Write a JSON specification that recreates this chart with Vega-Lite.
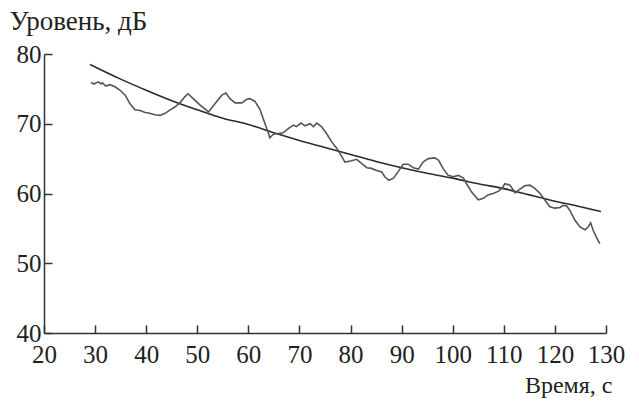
{
  "$schema": "https://vega.github.io/schema/vega-lite/v6.json",
  "width": 562,
  "height": 279,
  "autosize": {"type": "none"},
  "padding": {"left": 44, "top": 54, "right": 33, "bottom": 69},
  "background": "white",
  "config": {"view": {"stroke": null}, "font": "Liberation Serif"},
  "datasets": {
    "noisy": [
      {"t": 29.2, "v": 75.9}, {"t": 29.8, "v": 75.7}, {"t": 30.6, "v": 76.0}, {"t": 31.2, "v": 75.7}, {"t": 31.4, "v": 75.9},
      {"t": 32.1, "v": 75.4}, {"t": 32.9, "v": 75.6}, {"t": 33.9, "v": 75.3}, {"t": 34.9, "v": 74.8}, {"t": 35.9, "v": 74.1},
      {"t": 36.8, "v": 72.9}, {"t": 37.8, "v": 72.0}, {"t": 38.8, "v": 71.9}, {"t": 39.8, "v": 71.6}, {"t": 40.7, "v": 71.5},
      {"t": 41.7, "v": 71.3}, {"t": 42.7, "v": 71.2}, {"t": 43.7, "v": 71.5}, {"t": 44.7, "v": 72.0}, {"t": 45.6, "v": 72.4},
      {"t": 46.6, "v": 73.0}, {"t": 47.6, "v": 73.9}, {"t": 48.2, "v": 74.3}, {"t": 49.2, "v": 73.6}, {"t": 50.5, "v": 72.7},
      {"t": 52.2, "v": 71.7}, {"t": 53.5, "v": 72.9}, {"t": 54.8, "v": 74.1}, {"t": 55.6, "v": 74.4}, {"t": 56.4, "v": 73.6},
      {"t": 57.4, "v": 73.0}, {"t": 58.7, "v": 73.0}, {"t": 59.7, "v": 73.5}, {"t": 60.3, "v": 73.6}, {"t": 61.3, "v": 73.2},
      {"t": 62.3, "v": 72.0}, {"t": 63.2, "v": 70.1}, {"t": 63.9, "v": 68.7}, {"t": 64.2, "v": 68.0}, {"t": 64.9, "v": 68.5},
      {"t": 65.9, "v": 68.6}, {"t": 66.8, "v": 68.7}, {"t": 67.8, "v": 69.3}, {"t": 68.8, "v": 69.8}, {"t": 69.4, "v": 69.6},
      {"t": 70.3, "v": 70.1}, {"t": 71.1, "v": 69.7}, {"t": 72.1, "v": 70.0}, {"t": 72.7, "v": 69.6}, {"t": 73.4, "v": 70.1},
      {"t": 74.3, "v": 69.6}, {"t": 75.3, "v": 68.6}, {"t": 76.3, "v": 67.4}, {"t": 77.3, "v": 66.5}, {"t": 78.3, "v": 65.3},
      {"t": 78.9, "v": 64.5}, {"t": 80.2, "v": 64.7}, {"t": 81.2, "v": 64.9}, {"t": 82.2, "v": 64.3}, {"t": 83.2, "v": 63.7},
      {"t": 84.1, "v": 63.6}, {"t": 85.1, "v": 63.3}, {"t": 86.1, "v": 63.1}, {"t": 86.7, "v": 62.4}, {"t": 87.5, "v": 61.9},
      {"t": 88.4, "v": 62.2}, {"t": 89.3, "v": 63.1}, {"t": 90.3, "v": 64.2}, {"t": 91.3, "v": 64.2}, {"t": 92.3, "v": 63.7},
      {"t": 93.3, "v": 63.5}, {"t": 94.2, "v": 64.5}, {"t": 95.2, "v": 65.0}, {"t": 96.5, "v": 65.1}, {"t": 97.2, "v": 64.8},
      {"t": 98.1, "v": 63.6}, {"t": 99.1, "v": 62.6}, {"t": 100.1, "v": 62.4}, {"t": 101.1, "v": 62.6}, {"t": 102.1, "v": 62.2},
      {"t": 102.7, "v": 61.4}, {"t": 103.7, "v": 60.2}, {"t": 105.0, "v": 59.1}, {"t": 106.0, "v": 59.3}, {"t": 106.9, "v": 59.8},
      {"t": 107.9, "v": 60.0}, {"t": 108.9, "v": 60.3}, {"t": 109.7, "v": 60.8}, {"t": 110.2, "v": 61.4}, {"t": 111.2, "v": 61.2},
      {"t": 112.2, "v": 60.1}, {"t": 113.1, "v": 60.6}, {"t": 114.1, "v": 61.1}, {"t": 115.1, "v": 61.2}, {"t": 116.1, "v": 60.7},
      {"t": 117.1, "v": 60.0}, {"t": 118.0, "v": 59.1}, {"t": 119.0, "v": 58.1}, {"t": 120.0, "v": 57.9}, {"t": 121.0, "v": 58.0},
      {"t": 121.6, "v": 58.3}, {"t": 122.3, "v": 58.2}, {"t": 122.9, "v": 57.6}, {"t": 123.9, "v": 56.2}, {"t": 124.9, "v": 55.2},
      {"t": 125.9, "v": 54.8}, {"t": 126.5, "v": 55.2}, {"t": 127.0, "v": 55.8}, {"t": 127.5, "v": 54.7}, {"t": 128.2, "v": 53.6},
      {"t": 128.8, "v": 52.8}
    ],
    "smooth": [
      {"t": 29, "v": 78.5}, {"t": 35, "v": 76.4}, {"t": 40, "v": 74.8}, {"t": 45, "v": 73.3}, {"t": 50, "v": 72.0},
      {"t": 55, "v": 70.8}, {"t": 60, "v": 69.9}, {"t": 65, "v": 68.7}, {"t": 70, "v": 67.6}, {"t": 75, "v": 66.6},
      {"t": 80, "v": 65.6}, {"t": 85, "v": 64.6}, {"t": 90, "v": 63.7}, {"t": 95, "v": 62.9}, {"t": 100, "v": 62.2},
      {"t": 105, "v": 61.4}, {"t": 110, "v": 60.7}, {"t": 115, "v": 59.8}, {"t": 120, "v": 58.9}, {"t": 125, "v": 58.1},
      {"t": 129, "v": 57.4}
    ]
  },
  "encoding": {
    "x": {
      "field": "t", "type": "quantitative",
      "scale": {"domain": [20, 130], "nice": false, "zero": false},
      "axis": {
        "values": [20, 30, 40, 50, 60, 70, 80, 90, 100, 110, 120, 130],
        "grid": false, "tickSize": -8, "labelPadding": 17,
        "labelFontSize": 25, "labelColor": "#222", "labelFlush": false,
        "domainColor": "#333", "tickColor": "#333", "domainWidth": 1.5, "tickWidth": 1.5,
        "title": "Время, с", "titleFontSize": 24, "titleFontWeight": "normal", "titleColor": "#222",
        "titleX": 568, "titleY": 59, "titleAlign": "right", "titleBaseline": "alphabetic", "titleAnchor": null
      }
    },
    "y": {
      "field": "v", "type": "quantitative",
      "scale": {"domain": [40, 80], "nice": false, "zero": false},
      "axis": {
        "values": [40, 50, 60, 70, 80],
        "grid": false, "tickSize": -8, "labelPadding": 11,
        "labelFontSize": 25, "labelColor": "#222", "labelFlush": false,
        "domainColor": "#333", "tickColor": "#333", "domainWidth": 1.5, "tickWidth": 1.5,
        "title": "Уровень, дБ", "titleFontSize": 27, "titleFontWeight": "normal", "titleColor": "#222",
        "titleAngle": 0, "titleX": -35, "titleY": -25, "titleAlign": "left", "titleBaseline": "alphabetic", "titleAnchor": null
      }
    }
  },
  "layer": [
    {
      "data": {"name": "smooth"},
      "mark": {"type": "line", "interpolate": "monotone", "color": "#2b2b2b", "strokeWidth": 1.6}
    },
    {
      "data": {"name": "noisy"},
      "mark": {"type": "line", "color": "#555555", "strokeWidth": 1.6}
    }
  ]
}
